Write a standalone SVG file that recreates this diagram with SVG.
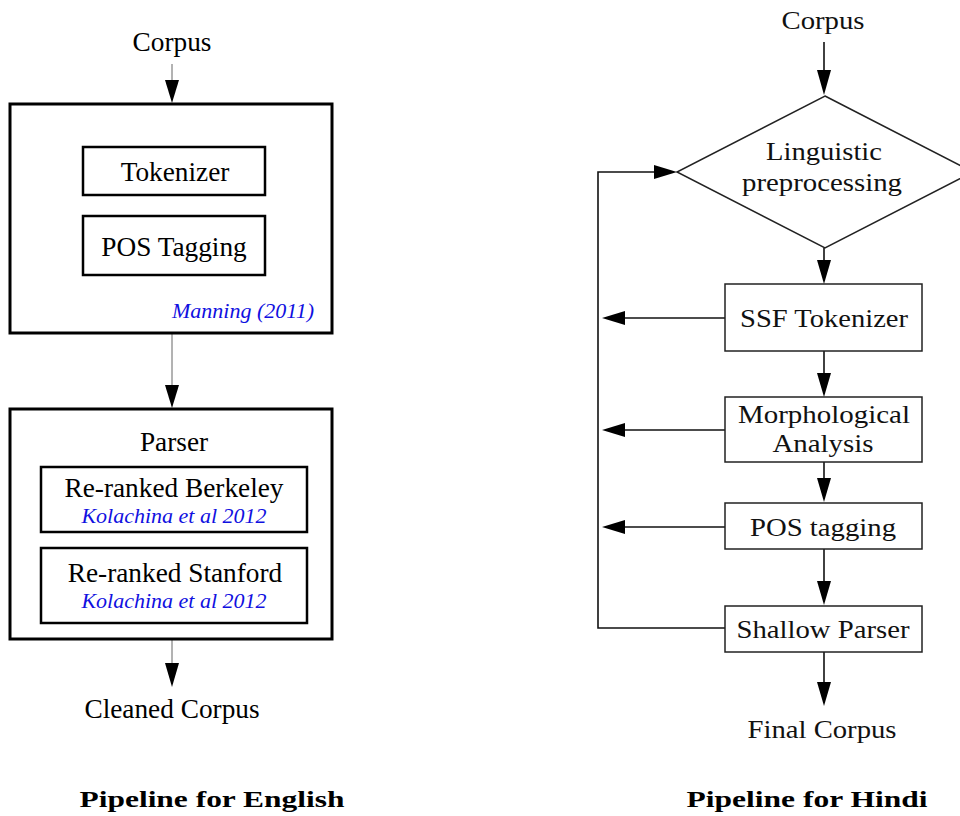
<svg xmlns="http://www.w3.org/2000/svg" width="960" height="816" viewBox="0 0 960 816">
<style>
  .t { font-family: "Liberation Serif", "Times New Roman", serif; fill: #000; text-anchor: middle; }
  .l { font-size: 27.3px; }
  .r { font-size: 25px; fill: #111; }
  .cite { font-family: "Liberation Serif", "Times New Roman", serif; font-style: italic; fill: #1010e0; font-size: 22px; text-anchor: middle; }
  .cap { font-family: "Liberation Serif", "Times New Roman", serif; font-weight: bold; font-size: 23px; text-anchor: middle; fill: #000; }
  .outer { fill: #fff; stroke: #000; stroke-width: 3; }
  .inner { fill: #fff; stroke: #000; stroke-width: 2.5; }
  .rbox { fill: #fff; stroke: #222; stroke-width: 1.5; }
  .thin { stroke: #666; stroke-width: 1; fill: none; }
  .line { stroke: #111; stroke-width: 1.6; fill: none; }
  .head { fill: #000; }
</style>
<rect width="960" height="816" fill="#fff"/>

<g id="connectors">
  <!-- English -->
  <line class="thin" x1="172" y1="64" x2="172" y2="82"/>
  <polygon class="head" points="165,80 179,80 172,103"/>
  <line class="thin" x1="172" y1="334" x2="172" y2="387"/>
  <polygon class="head" points="165,385 179,385 172,408"/>
  <line class="thin" x1="172" y1="640" x2="172" y2="665"/>
  <polygon class="head" points="165,663 179,663 172,687"/>
  <!-- Hindi -->
  <line class="line" x1="824" y1="42" x2="824" y2="72"/>
  <polygon class="head" points="817,70 831,70 824,95"/>
  <line class="line" x1="824" y1="248" x2="824" y2="262"/>
  <polygon class="head" points="817,260 831,260 824,284"/>
  <line class="line" x1="824" y1="351" x2="824" y2="375"/>
  <polygon class="head" points="817,373 831,373 824,397"/>
  <line class="line" x1="824" y1="462" x2="824" y2="480"/>
  <polygon class="head" points="817,478 831,478 824,502"/>
  <line class="line" x1="824" y1="549" x2="824" y2="583"/>
  <polygon class="head" points="817,581 831,581 824,605"/>
  <line class="line" x1="824" y1="652" x2="824" y2="684"/>
  <polygon class="head" points="817,682 831,682 824,706"/>
  <!-- feedback arrows -->
  <line class="line" x1="725" y1="318" x2="622" y2="318"/>
  <polygon class="head" points="602,318 625,311 625,325"/>
  <line class="line" x1="725" y1="430" x2="622" y2="430"/>
  <polygon class="head" points="602,430 625,423 625,437"/>
  <line class="line" x1="725" y1="527" x2="622" y2="527"/>
  <polygon class="head" points="602,527 625,520 625,534"/>
  <polyline class="line" points="725,628 598,628 598,172 656,172"/>
  <polygon class="head" points="677,172 654,165 654,179"/>
</g>

<g id="english-corpus"><text class="t l" x="172" y="51">Corpus</text></g>

<g id="preprocessing-box">
  <rect class="outer" x="10" y="104" width="322" height="229"/>
  <text class="cite" x="243" y="318">Manning (2011)</text>
</g>
<g id="tokenizer">
  <rect class="inner" x="83" y="147" width="182" height="48"/>
  <text class="t l" x="175" y="181">Tokenizer</text>
</g>
<g id="pos-tagging-en">
  <rect class="inner" x="83" y="216" width="182" height="59"/>
  <text class="t l" x="174" y="256">POS Tagging</text>
</g>

<g id="parser-box">
  <rect class="outer" x="10" y="409" width="322" height="230"/>
  <text class="t l" x="174" y="451">Parser</text>
</g>
<g id="berkeley">
  <rect class="inner" x="41" y="467" width="266" height="65"/>
  <text class="t l" x="174" y="497">Re-ranked Berkeley</text>
  <text class="cite" x="174" y="523">Kolachina et al 2012</text>
</g>
<g id="stanford">
  <rect class="inner" x="41" y="548" width="266" height="75"/>
  <text class="t l" x="175" y="582">Re-ranked Stanford</text>
  <text class="cite" x="174" y="608">Kolachina et al 2012</text>
</g>
<g id="cleaned-corpus"><text class="t l" x="172" y="718">Cleaned Corpus</text></g>

<g id="hindi-corpus"><text class="t r" x="823" y="29" textLength="83" lengthAdjust="spacingAndGlyphs">Corpus</text></g>
<g id="linguistic">
  <polygon class="rbox" points="825,96 973,172 825,248 677,172"/>
  <text class="t r" x="824" y="160" textLength="116" lengthAdjust="spacingAndGlyphs">Linguistic</text>
  <text class="t r" x="822" y="191" textLength="160" lengthAdjust="spacingAndGlyphs">preprocessing</text>
</g>
<g id="ssf-tokenizer">
  <rect class="rbox" x="725" y="284" width="197" height="67"/>
  <text class="t r" x="824" y="327" textLength="168" lengthAdjust="spacingAndGlyphs">SSF Tokenizer</text>
</g>
<g id="morph">
  <rect class="rbox" x="725" y="397" width="197" height="65"/>
  <text class="t r" x="824" y="423" textLength="172" lengthAdjust="spacingAndGlyphs">Morphological</text>
  <text class="t r" x="823" y="452" textLength="101" lengthAdjust="spacingAndGlyphs">Analysis</text>
</g>
<g id="pos-tagging-hi">
  <rect class="rbox" x="725" y="503" width="197" height="46"/>
  <text class="t r" x="823" y="536" textLength="146" lengthAdjust="spacingAndGlyphs">POS tagging</text>
</g>
<g id="shallow-parser">
  <rect class="rbox" x="725" y="606" width="197" height="46"/>
  <text class="t r" x="823" y="638" textLength="173" lengthAdjust="spacingAndGlyphs">Shallow Parser</text>
</g>
<g id="final-corpus"><text class="t r" x="822" y="738" textLength="149" lengthAdjust="spacingAndGlyphs">Final Corpus</text></g>

<g id="captions">
  <text class="cap" x="212" y="807" textLength="265" lengthAdjust="spacingAndGlyphs">Pipeline for English</text>
  <text class="cap" x="807" y="807" textLength="241" lengthAdjust="spacingAndGlyphs">Pipeline for Hindi</text>
</g>
</svg>
